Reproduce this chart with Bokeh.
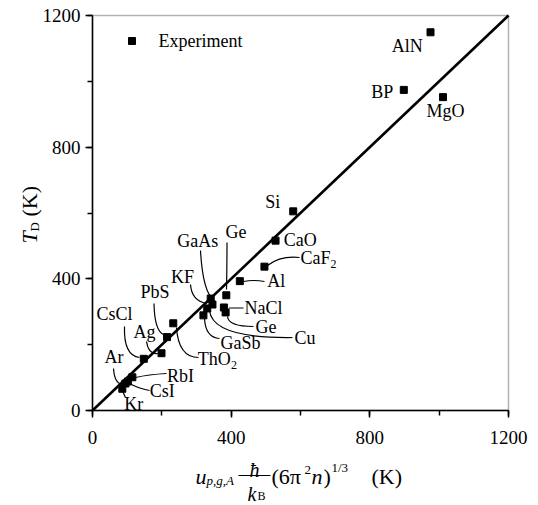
import math
from bokeh.plotting import figure
from bokeh.models import Range1d, SingleIntervalTicker, ColumnDataSource, BoxAnnotation
from bokeh.core.properties import value
from bokeh.embed import file_html
from bokeh.resources import INLINE

# ---------------- data ----------------
materials = ["AlN", "BP", "MgO", "Si", "CaO", "CaF2", "Al", "Ge", "NaCl", "Ge",
             "Cu", "GaAs", "KF", "GaSb", "ThO2", "PbS", "Ag", "CsCl", "RbI",
             "CsI", "Ar", "Kr"]
model_T = [975, 898, 1011, 579, 528, 496, 425, 386, 379, 384,
           346, 341, 331, 320, 233, 215, 199, 148, 115,
           102, 95, 86]          # u_{p,g,A} hbar/k_B (6 pi^2 n)^{1/3}  (K)
debye_T = [1149, 974, 952, 605, 516, 437, 393, 350, 313, 298,
           322, 340, 310, 289, 265, 223, 174, 157, 101,
           88, 82, 66]           # T_D (K)
tick_values = [0, 400, 800, 1200]

FONT = "Liberation Serif"
W, H = 538, 505

# page-pixel -> data helpers (layout only): plot box spans x 92..508, y 410..15
X0, X1, Y0, Y1 = 92.0, 508.0, 410.0, 15.0
LO, HI = tick_values[0], tick_values[-1]
def dx(px):
    return LO + (px - X0) * (HI - LO) / (X1 - X0)
def dy(py):
    return LO + (Y0 - py) * (HI - LO) / (Y0 - Y1)

p = figure(width=W, height=H,
           x_range=Range1d(dx(0), dx(W)), y_range=Range1d(dy(H), dy(0)),
           min_border=0, output_backend="svg", toolbar_location=None,
           background_fill_color="white", border_fill_color="white")
p.grid.visible = False
p.outline_line_color = None

for ax in (p.xaxis[0], p.yaxis[0]):
    ax.fixed_location = LO
    ax.bounds = (LO, HI)
    ax.ticker = SingleIntervalTicker(interval=400, num_minor_ticks=2)
    ax.axis_line_width = 1.5
    ax.major_tick_line_width = 1.5
    ax.minor_tick_line_width = 1.5
    ax.major_tick_in = 0
    ax.major_tick_out = 7
    ax.minor_tick_in = 0
    ax.minor_tick_out = 5
    ax.major_label_text_font = FONT
    ax.major_label_text_font_size = "19px"
    ax.major_label_text_color = "black"
p.xaxis[0].major_label_standoff = 13
p.yaxis[0].major_label_standoff = 5

# plot box
p.add_layout(BoxAnnotation(left=LO, right=HI, bottom=LO, top=HI, fill_color=None,
                           line_color="black", line_width=1.5))

# y = x line
p.line(x=[LO, HI], y=[LO, HI], line_color="black", line_width=2.6)

src = ColumnDataSource(dict(x=model_T, y=debye_T, name=materials))
p.scatter("x", "y", source=src, marker="square", size=7, color="black")

# legend key
p.scatter(x=[dx(131.5)], y=[dy(40.5)], marker="square", size=7, color="black")

# ---------------- text helper ----------------
def txt(t, px_x, px_y, size, italic=False, align="left", baseline="alphabetic", angle=0.0):
    kw = dict(text_font_style="italic") if italic else {}
    p.text(x=[dx(px_x)], y=[dy(px_y)], text=[t], text_font=value(FONT),
           text_font_size=f"{size}px", text_align=align,
           text_baseline=baseline, angle=angle, text_color="black", **kw)

txt("Experiment", 158, 40, 18, baseline="middle")

# ---------------- point labels ----------------
center_lbl = [("AlN", 406.7, 45), ("BP", 381.7, 91.7), ("MgO", 445, 110), ("Si", 272.3, 201),
              ("GaAs", 197.3, 240), ("Ge", 235.5, 231.7), ("KF", 182, 276), ("PbS", 154.5, 291.7),
              ("CsCl", 114, 313), ("Ag", 144, 331), ("GaSb", 240, 342), ("RbI", 180, 375),
              ("CsI", 161.7, 390), ("Kr", 133.3, 403.3), ("Ar", 113.5, 356.5), ("ThO", 213.7, 358.3)]
left_lbl = [("CaO", 283.3, 239), ("CaF", 300, 257.3), ("Al", 266.7, 280.7), ("NaCl", 244, 307.3),
            ("Ge", 255, 326), ("Cu", 294, 337.3)]
sub_lbl = [("2", 330, 263.5), ("2", 230.5, 364.5)]

def mk(rows):
    return ColumnDataSource(dict(text=[t for t, _, _ in rows], x=[dx(a) for _, a, _ in rows],
                                 y=[dy(b) for _, _, b in rows]))

p.text(x="x", y="y", text="text", source=mk(center_lbl), text_font=value(FONT),
       text_font_size="18px", text_align="center", text_baseline="middle", text_color="black")
p.text(x="x", y="y", text="text", source=mk(left_lbl), text_font=value(FONT),
       text_font_size="18px", text_align="left", text_baseline="middle", text_color="black")
p.text(x="x", y="y", text="text", source=mk(sub_lbl), text_font=value(FONT),
       text_font_size="12px", text_align="left", text_baseline="middle", text_color="black")

# leader curves (start, control, end) in page pixels
leaders = [
    ((200, 250), (202, 285), (210, 296)),      # GaAs
    ((226.5, 242), (226.5, 265), (226, 289)),  # Ge upper
    ((190, 284), (191, 300), (206, 303)),      # KF
    ((243, 307.5), (235, 307.5), (228.5, 307.5)),  # NaCl
    ((253, 326), (228, 326), (227, 316)),      # Ge lower
    ((292, 337), (212, 338), (209, 310)),      # Cu
    ((219, 338), (205, 337), (204, 318)),      # GaSb
    ((264, 281), (253, 279), (243, 281)),      # Al
    ((299, 257), (280, 255), (267, 265)),      # CaF2
    ((198, 357), (178, 357), (176, 327)),      # ThO2
    ((153.5, 303), (154, 330), (163, 334)),    # PbS
    ((146, 341), (148, 354), (157, 353)),      # Ag
    ((124, 326), (123, 355), (139, 357)),      # CsCl
    ((113, 368), (114, 384), (123, 384)),      # Ar
    ((166, 373), (148, 374), (135, 377)),      # RbI
    ((149, 390), (138, 388), (129, 383)),      # CsI
    ((125, 397), (123, 393), (122, 390)),      # Kr
]
p.quadratic(x0=[dx(s[0]) for s, c, e in leaders], y0=[dy(s[1]) for s, c, e in leaders],
            x1=[dx(e[0]) for s, c, e in leaders], y1=[dy(e[1]) for s, c, e in leaders],
            cx=[dx(c[0]) for s, c, e in leaders], cy=[dy(c[1]) for s, c, e in leaders],
            line_color="black", line_width=1.2)

# ---------------- axis titles ----------------
# x title: u_{p,g,A} (hbar / k_B) (6 pi^2 n)^{1/3}   (K)
txt("u", 195, 476, 22, italic=True)
txt("p,g,A", 206, 480, 13, italic=True)
txt("\u0127", 254, 469, 20, italic=True, align="center")
p.segment(x0=[dx(238)], y0=[dy(475)], x1=[dx(270)], y1=[dy(475)], line_color="black", line_width=1.2)
txt("k", 247, 493, 20, italic=True)
txt("B", 257, 495, 12)
txt("(6\u03c0", 271, 476, 22)
txt("2", 304, 469, 13)
txt("n", 311, 476, 22, italic=True)
txt(")", 323, 476, 22)
txt("1/3", 331, 467, 13)
txt("(K)", 371, 476, 22)

# y title: T_D (K)
txt("T", 29, 243, 22, italic=True, angle=math.pi / 2)
txt("D", 34, 231, 13, angle=math.pi / 2)
txt("(K)", 29, 216, 22, angle=math.pi / 2)

open("out.html", "w").write(file_html(p, INLINE))
